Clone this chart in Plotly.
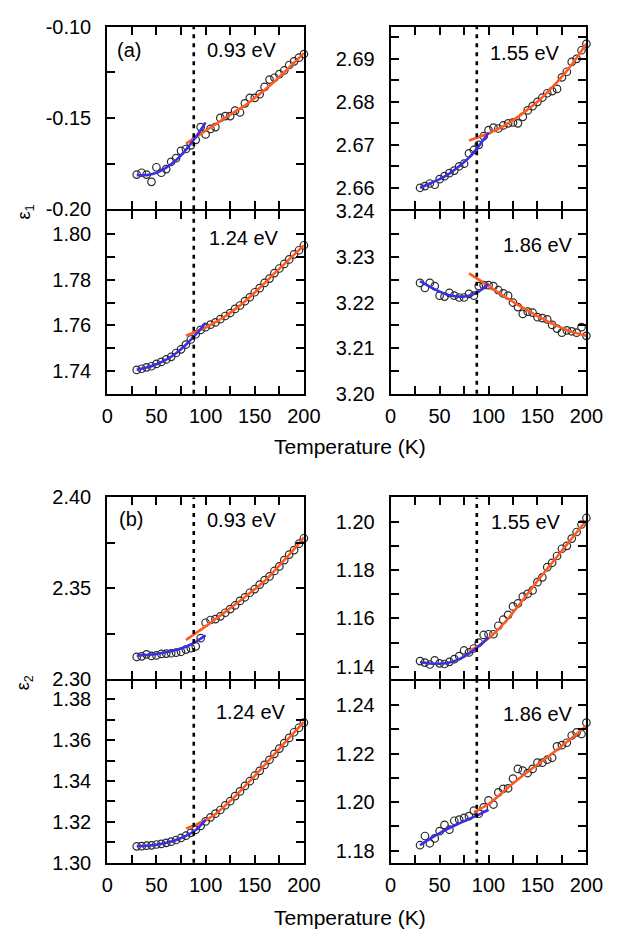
import plotly.graph_objects as go

W, H = 641, 943

# Temperature grid of the measurements (K)
TEMPS = [30, 35, 40, 45, 50, 55, 60, 65, 70, 75, 80, 85, 90, 95, 100, 105, 110,
         115, 120, 125, 130, 135, 140, 145, 150, 155, 160, 165, 170, 175, 180,
         185, 190, 195, 200]

# Temperature of the vertical marker line (K)
T_MARK = 88

# x axis ticks
X_TICKS = [0, 25, 50, 75, 100, 125, 150, 175, 200]
X_TICK_TEXT = ["0", "", "50", "", "100", "", "150", "", "200"]

# Fit sampling temperatures
FIT_LOW_T = [30, 40, 50, 60, 70, 80, 90, 100]
FIT_HIGH_T = [80, 90, 100, 110, 120, 130, 140, 150, 160, 170, 180, 190, 200]
FIT_HIGH_T_186E2 = [85, 100, 120, 140, 160, 180, 200]

# ---------------- epsilon_1 ----------------
E1_093 = [-0.181, -0.180, -0.181, -0.185, -0.177, -0.180, -0.178, -0.174, -0.172,
          -0.168, -0.167, -0.165, -0.162, -0.155, -0.159, -0.156, -0.155, -0.150,
          -0.149, -0.149, -0.146, -0.147, -0.142, -0.139, -0.139, -0.137, -0.133,
          -0.129, -0.128, -0.126, -0.124, -0.121, -0.119, -0.117, -0.115]
E1_093_LOW = [-0.1813, -0.1813, -0.1800, -0.1772, -0.1731, -0.1675, -0.1606, -0.1525]
E1_093_HIGH = [-0.1640, -0.1605, -0.1570, -0.1535, -0.1500, -0.1465, -0.1432,
               -0.1390, -0.1347, -0.1300, -0.1250, -0.1198, -0.1145]

E1_155 = [2.6600, 2.6604, 2.6610, 2.6607, 2.6620, 2.6627, 2.6634, 2.6640, 2.6650,
          2.6656, 2.6680, 2.6688, 2.6700, 2.6720, 2.6734, 2.6740, 2.6738, 2.6745,
          2.6750, 2.6752, 2.6750, 2.6765, 2.6780, 2.6790, 2.6800, 2.6810, 2.6820,
          2.6825, 2.6830, 2.6857, 2.6870, 2.6893, 2.6900, 2.6920, 2.6935]
E1_155_LOW = [2.6600, 2.6610, 2.6620, 2.6633, 2.6650, 2.6670, 2.6697, 2.6728]
E1_155_HIGH = [2.6710, 2.6718, 2.6727, 2.6737, 2.6750, 2.6765, 2.6782, 2.6800,
               2.6822, 2.6846, 2.6872, 2.6902, 2.6935]

E1_124 = [1.7405, 1.7410, 1.7416, 1.7421, 1.7431, 1.7440, 1.7451, 1.7462, 1.7479,
          1.7495, 1.7516, 1.7538, 1.7561, 1.7580, 1.7592, 1.7603, 1.7613, 1.7627,
          1.7641, 1.7654, 1.7672, 1.7687, 1.7706, 1.7723, 1.7745, 1.7763, 1.7786,
          1.7805, 1.7829, 1.7849, 1.7869, 1.7889, 1.7911, 1.7929, 1.7951]
E1_124_LOW = [1.7405, 1.7415, 1.7430, 1.7450, 1.7478, 1.7515, 1.7560, 1.7610]
E1_124_HIGH = [1.7555, 1.7572, 1.7590, 1.7614, 1.7640, 1.7671, 1.7705, 1.7744,
               1.7785, 1.7828, 1.7868, 1.7910, 1.7950]

E1_186 = [3.2243, 3.2232, 3.2243, 3.2236, 3.2215, 3.2213, 3.2221, 3.2215, 3.2211,
          3.2211, 3.2219, 3.2215, 3.2236, 3.2238, 3.2238, 3.2236, 3.2227, 3.2220,
          3.2215, 3.2200, 3.2190, 3.2175, 3.2180, 3.2178, 3.2168, 3.2166, 3.2163,
          3.2151, 3.2143, 3.2134, 3.2139, 3.2137, 3.2134, 3.2146, 3.2127]
E1_186_LOW = [3.2247, 3.2235, 3.2224, 3.2216, 3.2213, 3.2215, 3.2224, 3.2242]
E1_186_HIGH = [3.2264, 3.2250, 3.2236, 3.2222, 3.2208, 3.2195, 3.2183, 3.2170,
               3.2159, 3.2149, 3.2140, 3.2133, 3.2127]

# ---------------- epsilon_2 ----------------
E2_093 = [2.3122, 2.3125, 2.3136, 2.3127, 2.3130, 2.3138, 2.3140, 2.3142, 2.3145,
          2.3150, 2.3162, 2.3170, 2.3180, 2.3225, 2.3310, 2.3325, 2.3330, 2.3345,
          2.3365, 2.3385, 2.3405, 2.3430, 2.3450, 2.3475, 2.3495, 2.3520, 2.3545,
          2.3565, 2.3595, 2.3620, 2.3655, 2.3685, 2.3710, 2.3745, 2.3775]
E2_093_LOW = [2.3128, 2.3132, 2.3138, 2.3147, 2.3160, 2.3178, 2.3205, 2.3240]
E2_093_HIGH = [2.3215, 2.3252, 2.3290, 2.3330, 2.3370, 2.3410, 2.3452, 2.3495,
               2.3540, 2.3595, 2.3655, 2.3715, 2.3780]

E2_155 = [1.1424, 1.1418, 1.1410, 1.1427, 1.1415, 1.1412, 1.1421, 1.1432, 1.1445,
          1.1468, 1.1460, 1.1476, 1.1500, 1.1532, 1.1535, 1.1535, 1.1570, 1.1595,
          1.1615, 1.1650, 1.1662, 1.1690, 1.1702, 1.1716, 1.1750, 1.1770, 1.1812,
          1.1830, 1.1858, 1.1888, 1.1900, 1.1930, 1.1957, 1.1988, 1.2015]
E2_155_LOW = [1.1420, 1.1414, 1.1413, 1.1418, 1.1432, 1.1455, 1.1485, 1.1522]
E2_155_HIGH = [1.1465, 1.1488, 1.1518, 1.1555, 1.1600, 1.1650, 1.1702, 1.1755,
               1.1805, 1.1855, 1.1905, 1.1955, 1.2005]

E2_124 = [1.3080, 1.3081, 1.3083, 1.3085, 1.3089, 1.3092, 1.3097, 1.3103, 1.3111,
          1.3121, 1.3132, 1.3146, 1.3161, 1.3180, 1.3202, 1.3222, 1.3240, 1.3258,
          1.3281, 1.3301, 1.3326, 1.3349, 1.3376, 1.3399, 1.3426, 1.3450, 1.3479,
          1.3504, 1.3533, 1.3559, 1.3586, 1.3611, 1.3639, 1.3661, 1.3686]
E2_124_LOW = [1.3080, 1.3083, 1.3088, 1.3097, 1.3111, 1.3131, 1.3160, 1.3210]
E2_124_HIGH = [1.3168, 1.3185, 1.3207, 1.3238, 1.3280, 1.3325, 1.3375, 1.3425,
               1.3478, 1.3532, 1.3585, 1.3638, 1.3690]

E2_186 = [1.1822, 1.1860, 1.1830, 1.1850, 1.1880, 1.1906, 1.1886, 1.1923, 1.1928,
          1.1935, 1.1942, 1.1965, 1.1952, 1.1978, 1.2007, 1.1990, 1.2040, 1.2055,
          1.2057, 1.2097, 1.2137, 1.2130, 1.2120, 1.2137, 1.2163, 1.2163, 1.2175,
          1.2183, 1.2230, 1.2235, 1.2245, 1.2275, 1.2288, 1.2281, 1.2328]
E2_186_LOW = [1.1822, 1.1848, 1.1872, 1.1893, 1.1912, 1.1930, 1.1948, 1.1968]
E2_186_HIGH = [1.1958, 1.1992, 1.2060, 1.2125, 1.2185, 1.2248, 1.2315]

# y axis ticks per panel
Y_TICKS_E1_093 = [-0.20, -0.175, -0.15, -0.125, -0.10]
Y_TEXT_E1_093 = ["-0.20", "", "-0.15", "", "-0.10"]
Y_TICKS_E1_124 = [1.73, 1.74, 1.75, 1.76, 1.77, 1.78, 1.79, 1.80, 1.81]
Y_TEXT_E1_124 = ["", "1.74", "", "1.76", "", "1.78", "", "1.80", ""]
Y_TICKS_E1_155 = [2.655, 2.66, 2.665, 2.67, 2.675, 2.68, 2.685, 2.69, 2.695]
Y_TEXT_E1_155 = ["", "2.66", "", "2.67", "", "2.68", "", "2.69", ""]
Y_TICKS_E1_186 = [3.20, 3.205, 3.21, 3.215, 3.22, 3.225, 3.23, 3.235, 3.24]
Y_TEXT_E1_186 = ["3.20", "", "3.21", "", "3.22", "", "3.23", "", "3.24"]
Y_TICKS_E2_093 = [2.30, 2.325, 2.35, 2.375, 2.40]
Y_TEXT_E2_093 = ["2.30", "", "2.35", "", "2.40"]
Y_TICKS_E2_124 = [1.30, 1.31, 1.32, 1.33, 1.34, 1.35, 1.36, 1.37, 1.38]
Y_TEXT_E2_124 = ["1.30", "", "1.32", "", "1.34", "", "1.36", "", "1.38"]
Y_TICKS_E2_155 = [1.14, 1.15, 1.16, 1.17, 1.18, 1.19, 1.20, 1.21]
Y_TEXT_E2_155 = ["1.14", "", "1.16", "", "1.18", "", "1.20", ""]
Y_TICKS_E2_186 = [1.18, 1.19, 1.20, 1.21, 1.22, 1.23, 1.24, 1.25]
Y_TEXT_E2_186 = ["1.18", "", "1.20", "", "1.22", "", "1.24", ""]

ENERGY_LABELS = ["0.93 eV", "1.24 eV", "1.55 eV", "1.86 eV",
                 "0.93 eV", "1.24 eV", "1.55 eV", "1.86 eV"]

BLUE = "#3a2fe6"
ORANGE = "#ff5a22"
FONT = "Liberation Sans, Arial, Helvetica, sans-serif"
LW = 2  # frame line width

# Frame line positions in pixels: (left, right) and (top, bottom)
COL_LEFT = (104, 310)
COL_RIGHT = (398, 603)
ROWS = [(15, 204), (204, 393), (497, 685), (685, 873)]

panels = [
    dict(data=E1_093, low=E1_093_LOW, high=E1_093_HIGH, high_t=FIT_HIGH_T,
         yr=[-0.20, -0.10], yt=Y_TICKS_E1_093, ytt=Y_TEXT_E1_093,
         col=COL_LEFT, row=ROWS[0], bottom=False, label=ENERGY_LABELS[0],
         lab_pos=(283, 40)),
    dict(data=E1_124, low=E1_124_LOW, high=E1_124_HIGH, high_t=FIT_HIGH_T,
         yr=[1.73, 1.81], yt=Y_TICKS_E1_124, ytt=Y_TEXT_E1_124,
         col=COL_LEFT, row=ROWS[1], bottom=True, label=ENERGY_LABELS[1],
         lab_pos=(285, 232)),
    dict(data=E1_155, low=E1_155_LOW, high=E1_155_HIGH, high_t=FIT_HIGH_T,
         yr=[2.655, 2.6975], yt=Y_TICKS_E1_155, ytt=Y_TEXT_E1_155,
         col=COL_RIGHT, row=ROWS[0], bottom=False, label=ENERGY_LABELS[2],
         lab_pos=(577, 43)),
    dict(data=E1_186, low=E1_186_LOW, high=E1_186_HIGH, high_t=FIT_HIGH_T,
         yr=[3.20, 3.24], yt=Y_TICKS_E1_186, ytt=Y_TEXT_E1_186,
         col=COL_RIGHT, row=ROWS[1], bottom=True, label=ENERGY_LABELS[3],
         lab_pos=(590, 240)),
    dict(data=E2_093, low=E2_093_LOW, high=E2_093_HIGH, high_t=FIT_HIGH_T,
         yr=[2.30, 2.40], yt=Y_TICKS_E2_093, ytt=Y_TEXT_E2_093,
         col=COL_LEFT, row=ROWS[2], bottom=False, label=ENERGY_LABELS[4],
         lab_pos=(283, 521)),
    dict(data=E2_124, low=E2_124_LOW, high=E2_124_HIGH, high_t=FIT_HIGH_T,
         yr=[1.30, 1.389], yt=Y_TICKS_E2_124, ytt=Y_TEXT_E2_124,
         col=COL_LEFT, row=ROWS[3], bottom=True, label=ENERGY_LABELS[5],
         lab_pos=(292, 718)),
    dict(data=E2_155, low=E2_155_LOW, high=E2_155_HIGH, high_t=FIT_HIGH_T,
         yr=[1.135, 1.21], yt=Y_TICKS_E2_155, ytt=Y_TEXT_E2_155,
         col=COL_RIGHT, row=ROWS[2], bottom=False, label=ENERGY_LABELS[6],
         lab_pos=(578, 523)),
    dict(data=E2_186, low=E2_186_LOW, high=E2_186_HIGH, high_t=FIT_HIGH_T_186E2,
         yr=[1.175, 1.25], yt=Y_TICKS_E2_186, ytt=Y_TEXT_E2_186,
         col=COL_RIGHT, row=ROWS[3], bottom=True, label=ENERGY_LABELS[7],
         lab_pos=(590, 720)),
]


def px_x(px):
    return px / W


def px_y(py):
    return 1 - py / H


fig = go.Figure()
layout = dict(
    width=W, height=H,
    margin=dict(l=0, r=0, t=0, b=0),
    paper_bgcolor="white", plot_bgcolor="white",
    showlegend=False,
    font=dict(family=FONT, size=20, color="black"),
)
shapes = []
annotations = []
half = LW / 2

for i, p in enumerate(panels, start=1):
    sfx = "" if i == 1 else str(i)
    xa, ya = "x" + sfx, "y" + sfx

    fig.add_trace(go.Scatter(
        x=TEMPS, y=p["data"], mode="markers", xaxis=xa, yaxis=ya,
        marker=dict(symbol="circle-open", size=7.5, color="#2a2a2a",
                    line=dict(width=1.2)),
        cliponaxis=False,
    ))
    fig.add_trace(go.Scatter(
        x=p["high_t"], y=p["high"], mode="lines", xaxis=xa, yaxis=ya,
        line=dict(color=ORANGE, width=2.6, shape="spline"),
    ))
    fig.add_trace(go.Scatter(
        x=FIT_LOW_T, y=p["low"], mode="lines", xaxis=xa, yaxis=ya,
        line=dict(color=BLUE, width=2.6, shape="spline"),
    ))

    axis_common = dict(
        showline=True, linewidth=LW, linecolor="black", mirror="allticks",
        ticks="inside", ticklen=8, tickwidth=2, tickcolor="black",
        showgrid=False, zeroline=False,
        tickfont=dict(family=FONT, size=20, color="black"),
    )
    # frame lines sit just outside the plot area, so inset the domain by half a line
    layout["xaxis" + sfx] = dict(
        axis_common,
        domain=[px_x(p["col"][0] + half), px_x(p["col"][1] - half)],
        range=[0, 200], anchor=ya,
        tickmode="array", tickvals=X_TICKS, ticktext=X_TICK_TEXT,
        showticklabels=p["bottom"], ticklabelstandoff=3,
    )
    layout["yaxis" + sfx] = dict(
        axis_common,
        domain=[px_y(p["row"][1] - half), px_y(p["row"][0] + half)],
        range=p["yr"], anchor=xa,
        tickmode="array", tickvals=p["yt"], ticktext=p["ytt"],
        ticklabelstandoff=10,
    )

    shapes.append(dict(
        type="line", xref=xa, yref=ya + " domain",
        x0=T_MARK, x1=T_MARK, y0=0, y1=1,
        line=dict(color="black", width=2.6, dash="4px,5px"),
    ))

    lx, ly = p["lab_pos"]
    annotations.append(dict(
        text=p["label"], xref="paper", yref="paper",
        x=px_x(lx), y=px_y(ly), xanchor="right", yanchor="middle",
        showarrow=False, font=dict(family=FONT, size=20, color="black"),
    ))

# Panel letters
annotations.append(dict(text="(a)", xref="paper", yref="paper",
                        x=px_x(113), y=px_y(40), xanchor="left", yanchor="middle",
                        showarrow=False, font=dict(family=FONT, size=20)))
annotations.append(dict(text="(b)", xref="paper", yref="paper",
                        x=px_x(115), y=px_y(520), xanchor="left", yanchor="middle",
                        showarrow=False, font=dict(family=FONT, size=20)))

# Axis titles
for ty in (446, 928):
    annotations.append(dict(text="Temperature (K)", xref="paper", yref="paper",
                            x=px_x(357), y=px_y(ty), xanchor="center",
                            yanchor="middle", showarrow=False,
                            font=dict(family=FONT, size=21)))
annotations.append(dict(text="ε<sub>1</sub>", xref="paper", yref="paper",
                        x=px_x(20), y=px_y(206), xanchor="center", yanchor="middle",
                        textangle=-90, showarrow=False,
                        font=dict(family=FONT, size=18)))
annotations.append(dict(text="ε<sub>2</sub>", xref="paper", yref="paper",
                        x=px_x(20), y=px_y(688), xanchor="center", yanchor="middle",
                        textangle=-90, showarrow=False,
                        font=dict(family=FONT, size=18)))

layout["shapes"] = shapes
layout["annotations"] = annotations
fig.update_layout(**layout)

fig.write_html("out.html")
